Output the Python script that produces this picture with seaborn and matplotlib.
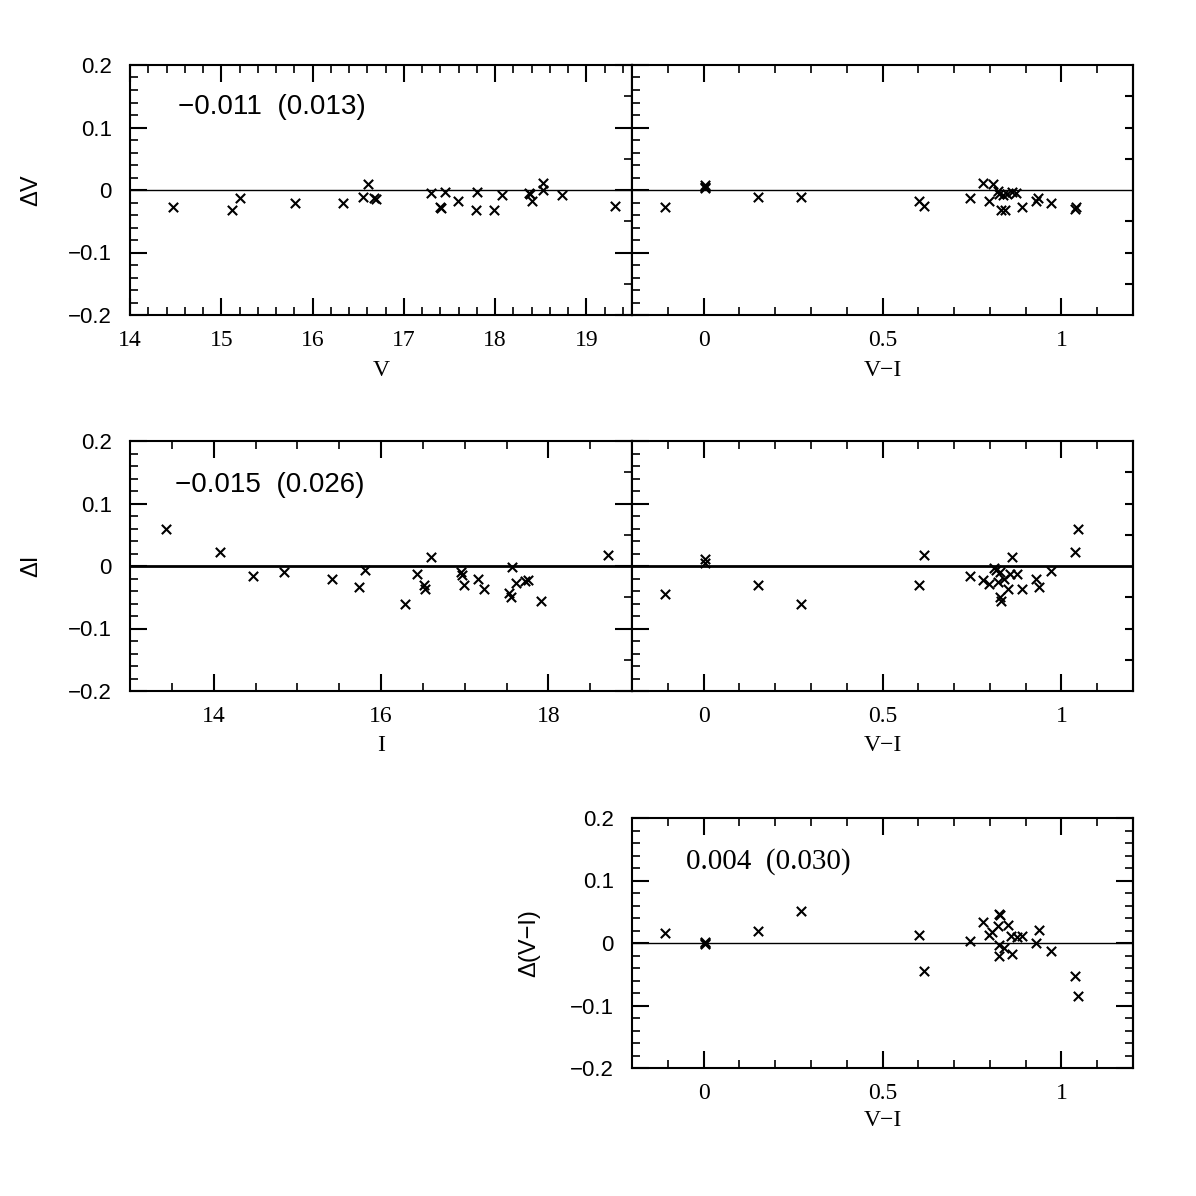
import matplotlib
matplotlib.use("Agg")
import matplotlib.pyplot as plt
import numpy as np
import pandas as pd
import seaborn as sns
from matplotlib.ticker import MultipleLocator, FixedLocator

# ---- data ----
# panel 1: Delta V against V
v_mag = [14.47, 15.12, 15.21, 15.81, 16.33, 16.55, 16.61, 16.67, 16.70, 17.30,
         17.40, 17.41, 17.45, 17.59, 17.79, 17.80, 17.99, 18.08, 18.37, 18.38,
         18.40, 18.52, 18.53, 18.73, 19.31]
dv_v = [-0.027, -0.032, -0.012, -0.021, -0.020, -0.011, 0.010, -0.012, -0.014, -0.004,
        -0.027, -0.029, -0.003, -0.017, -0.032, -0.003, -0.032, -0.008, -0.004, -0.007,
        -0.018, 0.012, 0.000, -0.008, -0.026]

# panel 2: Delta V against V-I
vi_top = [-0.107, 0.003, 0.004, 0.005, 0.153, 0.273, 0.602, 0.617, 0.745, 0.782,
          0.798, 0.810, 0.822, 0.826, 0.831, 0.842, 0.836, 0.848, 0.861, 0.872,
          0.889, 0.930, 0.934, 0.972, 1.037, 1.040]
dv_vi = [-0.027, 0.008, 0.005, 0.004, -0.011, -0.011, -0.017, -0.026, -0.012, 0.011,
         -0.017, 0.010, -0.001, -0.006, -0.032, -0.032, -0.008, -0.006, -0.003, -0.004,
         -0.027, -0.017, -0.013, -0.020, -0.031, -0.027]

# panel 3: Delta I against I
i_mag = [13.43, 14.07, 14.47, 14.84, 15.41, 15.74, 15.81, 16.29, 16.43, 16.51,
         16.52, 16.60, 16.96, 16.97, 16.99, 17.16, 17.23, 17.53, 17.55, 17.57,
         17.61, 17.72, 17.76, 17.91, 18.71]
di_i = [0.060, 0.022, -0.016, -0.009, -0.020, -0.034, -0.007, -0.061, -0.013, -0.030,
        -0.037, 0.014, -0.009, -0.014, -0.031, -0.021, -0.036, -0.043, -0.049, -0.002,
        -0.027, -0.024, -0.022, -0.056, 0.018]

# panel 4: Delta I against V-I
vi_mid = [-0.107, 0.003, 0.004, 0.153, 0.273, 0.602, 0.617, 0.745, 0.782, 0.798,
          0.812, 0.818, 0.822, 0.828, 0.828, 0.830, 0.840, 0.852, 0.857, 0.863,
          0.877, 0.889, 0.929, 0.938, 0.972, 1.039, 1.046]
di_vi = [-0.044, 0.011, 0.005, -0.031, -0.061, -0.031, 0.018, -0.016, -0.022, -0.028,
         -0.003, -0.007, -0.025, -0.009, -0.050, -0.056, -0.021, -0.036, -0.013, 0.014,
         -0.013, -0.036, -0.020, -0.033, -0.008, 0.022, 0.059]

# panel 5: Delta(V-I) against V-I
vi_bot = [-0.107, 0.003, 0.004, 0.005, 0.153, 0.273, 0.602, 0.617, 0.745, 0.782,
          0.798, 0.807, 0.822, 0.826, 0.828, 0.826, 0.826, 0.840, 0.850, 0.860,
          0.863, 0.876, 0.889, 0.929, 0.938, 0.972, 1.039, 1.046]
dvi_vi = [0.016, 0.002, -0.002, 0.000, 0.020, 0.051, 0.013, -0.044, 0.004, 0.033,
          0.013, 0.017, 0.028, 0.047, 0.045, -0.003, -0.021, -0.008, 0.029, 0.012,
          -0.018, 0.009, 0.012, 0.000, 0.021, -0.012, -0.053, -0.085]

mean_labels = ["\u22120.011  (0.013)", "\u22120.015  (0.026)", "0.004  (0.030)"]

# ---- style ----
sns.set_style("ticks")
plt.rcParams['font.family'] = ['Liberation Sans', 'DejaVu Sans']
plt.rcParams['axes.linewidth'] = 1.5
for key in ('text.color', 'axes.labelcolor', 'xtick.color', 'ytick.color',
            'axes.edgecolor'):
    plt.rcParams[key] = 'black'

SERIF = ['Liberation Serif', 'DejaVu Serif']
SANS = ['Liberation Sans', 'DejaVu Sans']

fig = plt.figure(figsize=(11.96, 11.96), dpi=100)

W = 1196.0


def box(x0, y0, x1, y1):
    return [x0 / W, 1 - y1 / W, (x1 - x0) / W, (y1 - y0) / W]


def panel(rect, x, y, xlim, xmaj, xmin, xticks, xlabels, xlabel, ylabel,
          right_all_short, zero_lw, show_ylabels=True):
    ax = fig.add_axes(rect)
    df = pd.DataFrame({"x": x, "y": y})
    sns.scatterplot(data=df, x="x", y="y", ax=ax, marker="x", color="black",
                    s=45, linewidth=1.5)
    ax.axhline(0, color="black", lw=zero_lw, zorder=1)
    ax.set_xlim(*xlim)
    ax.set_ylim(-0.2, 0.2)

    ax.xaxis.set_major_locator(MultipleLocator(xmaj))
    ax.xaxis.set_minor_locator(MultipleLocator(xmin))
    ax.yaxis.set_major_locator(MultipleLocator(0.1))
    ax.yaxis.set_minor_locator(MultipleLocator(0.02))
    ax.tick_params(axis='x', which='both', direction='in', top=True, bottom=True)
    ax.tick_params(axis='y', which='both', direction='in', left=True, right=False)
    ax.tick_params(which='major', length=12, width=1.5)
    ax.tick_params(which='minor', length=6, width=1.2)
    ax.tick_params(axis='x', pad=11)
    ax.tick_params(axis='y', pad=13)

    # own tick set on the right hand side
    sec = ax.secondary_yaxis('right')
    if right_all_short is None:
        sec.yaxis.set_major_locator(MultipleLocator(0.1))
        sec.yaxis.set_minor_locator(MultipleLocator(0.02))
        sec.tick_params(which='major', length=12, width=1.5)
        sec.tick_params(which='minor', length=6, width=1.2)
    elif right_all_short:
        sec.yaxis.set_major_locator(FixedLocator([-0.15, -0.1, -0.05, 0.05, 0.1, 0.15]))
        sec.tick_params(which='major', length=6, width=1.5)
    else:
        sec.yaxis.set_major_locator(MultipleLocator(0.1))
        sec.yaxis.set_minor_locator(MultipleLocator(0.05))
        sec.tick_params(which='major', length=12, width=1.5)
        sec.tick_params(which='minor', length=6, width=1.2)
    sec.tick_params(which='both', direction='in', labelright=False, color='black')

    ax.set_xticks(xticks)
    ax.set_xticklabels(xlabels, family=SERIF, fontsize=17)
    if show_ylabels:
        ax.set_yticks([-0.2, -0.1, 0, 0.1, 0.2])
        ax.set_yticklabels(["\u22120.2", "\u22120.1", "0", "0.1", "0.2"],
                           family=SANS, fontsize=16)
    else:
        ax.set_yticklabels([])

    ax.set_xlabel(xlabel, family=SERIF, fontsize=17)
    ax.set_ylabel(ylabel if ylabel else "", family=SANS, fontsize=17)
    for s in ax.spines.values():
        s.set_linewidth(1.5)
        s.set_color('black')
    return ax


# top row
ax1 = panel(box(130, 65, 632, 315), v_mag, dv_v, (14, 19.5), 1, 0.2,
            [14, 15, 16, 17, 18, 19], ["14", "15", "16", "17", "18", "19"],
            "V", "\u0394V", False, 1.0)
ax2 = panel(box(632, 65, 1133, 315), vi_top, dv_vi, (-0.2, 1.2), 0.5, 0.1,
            [0, 0.5, 1], ["0", "0.5", "1"], "V\u2212I", None, True, 1.0,
            show_ylabels=False)

# middle row
ax3 = panel(box(130, 441, 632, 691), i_mag, di_i, (13, 19), 2, 0.5,
            [14, 16, 18], ["14", "16", "18"], "I", "\u0394I", False, 2.0)
ax4 = panel(box(632, 441, 1133, 691), vi_mid, di_vi, (-0.2, 1.2), 0.5, 0.1,
            [0, 0.5, 1], ["0", "0.5", "1"], "V\u2212I", None, True, 2.0,
            show_ylabels=False)

# bottom
ax5 = panel(box(632, 818, 1133, 1068), vi_bot, dvi_vi, (-0.2, 1.2), 0.5, 0.1,
            [0, 0.5, 1], ["0", "0.5", "1"], "V\u2212I", "\u0394(V\u2212I)", None, 1.0)

# label placement
ax1.yaxis.set_label_coords(-0.175, 0.5)
ax3.yaxis.set_label_coords(-0.175, 0.5)
ax5.yaxis.set_label_coords(-0.184, 0.5)
for ax in (ax1, ax2):
    ax.xaxis.set_label_coords(0.5, -0.18)
for ax in (ax3, ax4):
    ax.xaxis.set_label_coords(0.5, -0.176)
ax5.xaxis.set_label_coords(0.5, -0.168)

ax1.text(0.096, 0.832, mean_labels[0], transform=ax1.transAxes, ha='left',
         va='center', fontsize=20, family=SANS)
ax3.text(0.090, 0.824, mean_labels[1], transform=ax3.transAxes, ha='left',
         va='center', fontsize=20, family=SANS)
ax5.text(0.108, 0.824, mean_labels[2], transform=ax5.transAxes, ha='left',
         va='center', fontsize=21, family=SERIF)

fig.savefig("out.png", dpi=100)
